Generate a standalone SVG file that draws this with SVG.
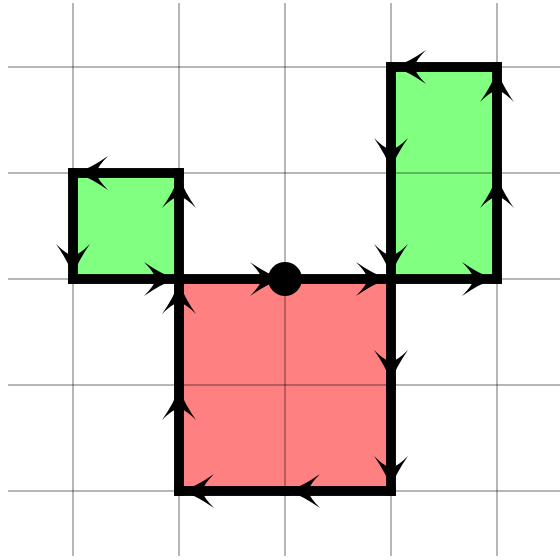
<svg xmlns="http://www.w3.org/2000/svg" width="560" height="560" viewBox="0 0 560 560">
  <style>
    .grid line { stroke: #000; stroke-opacity: 0.38; stroke-width: 1.5; }
    .green { fill: #80ff80; }
    .red { fill: #ff8080; }
    .outline { fill: none; stroke: #000; stroke-width: 9.5; stroke-linejoin: miter; }
    .edge { stroke: #000; stroke-width: 9.5; stroke-linecap: square; fill: none; marker-end: url(#arr); }
  </style>
  <defs>
    <marker id="arr" markerUnits="userSpaceOnUse" viewBox="-36 -20 40 40" markerWidth="40" markerHeight="40" refX="3" refY="0" orient="auto" overflow="visible">
      <path d="M0,0 Q-15,-5 -32,-17 Q-22,-7 -20,0 Q-22,7 -32,17 Q-15,5 0,0 Z" fill="#000"/>
    </marker>
  </defs>
  <rect width="560" height="560" fill="#fff"/>
  <g id="fills">
    <rect class="green" x="73" y="173" width="106" height="106"/>
    <rect class="green" x="391" y="67" width="106" height="212"/>
    <rect class="red" x="179" y="279" width="212" height="212"/>
  </g>
  <g class="grid" id="grid">
    <line x1="73" y1="3" x2="73" y2="556"/>
    <line x1="179" y1="3" x2="179" y2="556"/>
    <line x1="285" y1="3" x2="285" y2="556"/>
    <line x1="391" y1="3" x2="391" y2="556"/>
    <line x1="497" y1="3" x2="497" y2="556"/>
    <line x1="8" y1="67" x2="560" y2="67"/>
    <line x1="8" y1="173" x2="560" y2="173"/>
    <line x1="8" y1="279" x2="560" y2="279"/>
    <line x1="8" y1="385" x2="560" y2="385"/>
    <line x1="8" y1="491" x2="560" y2="491"/>
  </g>
  <g id="node-small-square">
    <rect class="outline" x="73" y="173" width="106" height="106"/>
  </g>
  <g id="node-tall-rect">
    <rect class="outline" x="391" y="67" width="106" height="212"/>
  </g>
  <g id="node-red-square">
    <rect class="outline" x="179" y="279" width="212" height="212"/>
  </g>
  <g id="connectors">
    <line class="edge" x1="179" y1="173" x2="73" y2="173"/>
    <line class="edge" x1="73" y1="173" x2="73" y2="279"/>
    <line class="edge" x1="73" y1="279" x2="179" y2="279"/>
    <line class="edge" x1="179" y1="279" x2="179" y2="173"/>

    <line class="edge" x1="497" y1="67" x2="391" y2="67"/>
    <line class="edge" x1="391" y1="67" x2="391" y2="173"/>
    <line class="edge" x1="391" y1="173" x2="391" y2="279"/>
    <line class="edge" x1="391" y1="279" x2="497" y2="279"/>
    <line class="edge" x1="497" y1="279" x2="497" y2="173"/>
    <line class="edge" x1="497" y1="173" x2="497" y2="67"/>

    <line class="edge" x1="179" y1="279" x2="285" y2="279"/>
    <line class="edge" x1="285" y1="279" x2="391" y2="279"/>
    <line class="edge" x1="391" y1="279" x2="391" y2="385"/>
    <line class="edge" x1="391" y1="385" x2="391" y2="491"/>
    <line class="edge" x1="391" y1="491" x2="285" y2="491"/>
    <line class="edge" x1="285" y1="491" x2="179" y2="491"/>
    <line class="edge" x1="179" y1="491" x2="179" y2="385"/>
    <line class="edge" x1="179" y1="385" x2="179" y2="279"/>
  </g>
  <g id="node-dot">
    <circle cx="285" cy="279" r="17" fill="#000"/>
  </g>
</svg>
